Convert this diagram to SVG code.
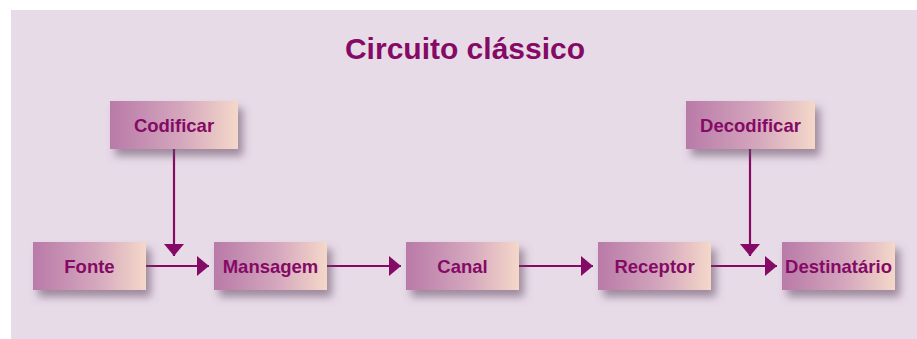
<svg xmlns="http://www.w3.org/2000/svg" width="917" height="339" viewBox="0 0 917 339">
  <defs>
    <linearGradient id="boxGrad" x1="0" y1="0" x2="1" y2="0">
      <stop offset="0" stop-color="#b97aa8"/>
      <stop offset="0.55" stop-color="#d4a6bd"/>
      <stop offset="1" stop-color="#f4d8c9"/>
    </linearGradient>
    <filter id="shadow" x="-20%" y="-30%" width="150%" height="190%">
      <feDropShadow dx="5" dy="7" stdDeviation="4" flood-color="#5e4a5e" flood-opacity="0.55"/>
    </filter>
    <marker id="arrow" markerUnits="userSpaceOnUse" markerWidth="13" markerHeight="20" refX="12" refY="10" orient="auto">
      <path d="M0,0 L12,10 L0,20 Z" fill="#850a66"/>
    </marker>
  </defs>
  <style>
    .box { fill: url(#boxGrad); filter: url(#shadow); }
    .label { font-family: "Liberation Sans", Arial, sans-serif; font-weight: bold; font-size: 18.5px; fill: #850a66; text-anchor: middle; }
    .title { font-family: "Liberation Sans", Arial, sans-serif; font-weight: bold; font-size: 30px; fill: #850a66; text-anchor: middle; }
    .conn { stroke: #850a66; stroke-width: 2.2; fill: none; marker-end: url(#arrow); }
  </style>
  <rect x="11" y="10" width="906" height="329" fill="#e8dbe8"/>
  <text class="title" x="465" y="59">Circuito clássico</text>

  <g id="connectors">
    <line class="conn" x1="146" y1="266" x2="209" y2="266"/>
    <line class="conn" x1="327" y1="266" x2="401" y2="266"/>
    <line class="conn" x1="519" y1="266" x2="593" y2="266"/>
    <line class="conn" x1="711" y1="266" x2="777" y2="266"/>
    <line class="conn" x1="174" y1="149" x2="174" y2="256"/>
    <line class="conn" x1="750" y1="149" x2="750" y2="256"/>
  </g>

  <g id="codificar">
    <rect class="box" x="110" y="101" width="128" height="48"/>
    <text class="label" x="174" y="132">Codificar</text>
  </g>
  <g id="decodificar">
    <rect class="box" x="686" y="101" width="129" height="48"/>
    <text class="label" x="750.5" y="132">Decodificar</text>
  </g>
  <g id="fonte">
    <rect class="box" x="33" y="242" width="113" height="48"/>
    <text class="label" x="89.5" y="273">Fonte</text>
  </g>
  <g id="mansagem">
    <rect class="box" x="214" y="242" width="113" height="48"/>
    <text class="label" x="270.5" y="273">Mansagem</text>
  </g>
  <g id="canal">
    <rect class="box" x="406" y="242" width="113" height="48"/>
    <text class="label" x="462.5" y="273">Canal</text>
  </g>
  <g id="receptor">
    <rect class="box" x="598" y="242" width="113" height="48"/>
    <text class="label" x="654.5" y="273">Receptor</text>
  </g>
  <g id="destinatario">
    <rect class="box" x="782" y="242" width="113" height="48"/>
    <text class="label" x="838.5" y="273">Destinatário</text>
  </g>
</svg>
